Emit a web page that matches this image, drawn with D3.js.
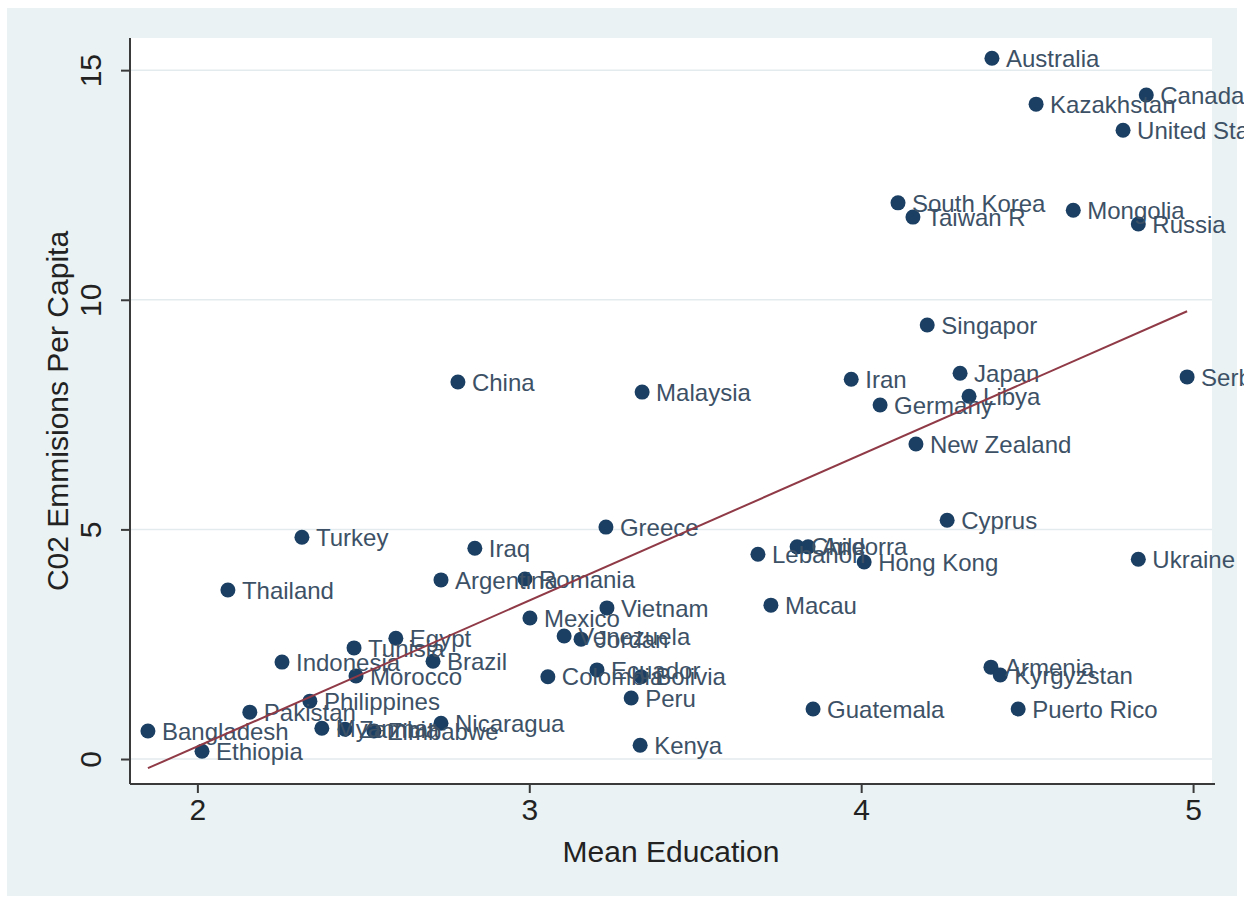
<!DOCTYPE html>
<html>
<head>
<meta charset="utf-8">
<script src="https://cdnjs.cloudflare.com/ajax/libs/d3/7.8.5/d3.min.js"></script>
<style>
  body { margin: 0; background: #ffffff; }
  svg { display: block; font-family: "Liberation Sans", Arial, sans-serif; }
  .grid line { stroke: #e3ebee; stroke-width: 1.5; }
  .axis path, .axis line { stroke: #3a3a3a; stroke-width: 2; }
  .axis text { fill: #222; font-size: 30px; }
  .country-label { fill: #3d5166; font-size: 24px; }
</style>
</head>
<body>
<div class="wrapper"></div>
<script>
var countries = [
  "Australia", "Canada", "Kazakhstan", "United States", "South Korea", "Taiwan R",
  "Mongolia", "Russia", "Singapor", "Iran", "Japan", "Libya", "Germany",
  "New Zealand", "Serbia", "China", "Malaysia", "Cyprus", "Ukraine", "Hong Kong",
  "Lebanon", "Chile", "Andorra", "Macau", "Greece", "Turkey", "Iraq", "Argentina",
  "Romania", "Thailand", "Vietnam", "Mexico", "Venezuela", "Jordan", "Egypt",
  "Tunisia", "Indonesia", "Brazil", "Morocco", "Ecuador", "Colombia", "Bolivia",
  "Peru", "Guatemala", "Kenya", "Armenia", "Kyrgyzstan", "Puerto Rico",
  "Philippines", "Pakistan", "Bangladesh", "Ethiopia", "Nicaragua", "Myanmar",
  "Zambia", "Zimbabwe"
];
var meanEducation = [
  4.394, 4.859, 4.527, 4.789, 4.111, 4.156,
  4.639, 4.835, 4.199, 3.970, 4.298, 4.325, 4.057,
  4.165, 4.982, 2.785, 3.340, 4.259, 4.835, 4.009,
  3.689, 3.807, 3.840, 3.728, 3.231, 2.315, 2.836, 2.734,
  2.987, 2.092, 3.234, 3.002, 3.105, 3.156, 2.598,
  2.472, 2.255, 2.710, 2.478, 3.204, 3.056, 3.337,
  3.307, 3.855, 3.334, 4.391, 4.419, 4.473,
  2.339, 2.158, 1.851, 2.014, 2.734, 2.375,
  2.445, 2.532
];
var co2PerCapita = [
  15.26, 14.46, 14.26, 13.69, 12.11, 11.80,
  11.95, 11.65, 9.45, 8.27, 8.40, 7.90, 7.71,
  6.86, 8.32, 8.21, 7.99, 5.20, 4.35, 4.29,
  4.46, 4.62, 4.62, 3.35, 5.05, 4.83, 4.59, 3.90,
  3.92, 3.68, 3.29, 3.07, 2.68, 2.61, 2.63,
  2.42, 2.11, 2.13, 1.81, 1.94, 1.79, 1.79,
  1.33, 1.09, 0.30, 2.00, 1.83, 1.09,
  1.26, 1.02, 0.61, 0.17, 0.78, 0.67,
  0.65, 0.61
];
// linear fit endpoints (min and max of mean education)
var fitX = [1.851, 4.982];
var fitY = [-0.20, 9.75];
var xTicks = [2, 3, 4, 5];
var yTicks = [0, 5, 10, 15];

var width = 1244, height = 902;
var plot = { left: 130, top: 38, right: 1212, bottom: 784 };

var points = countries.map(function(name, i) {
  return { name: name, x: meanEducation[i], y: co2PerCapita[i] };
});

var svg = d3.select(".wrapper").append("svg")
  .attr("width", width)
  .attr("height", height);

// graph region
svg.append("rect")
  .attr("x", 7).attr("y", 8)
  .attr("width", 1230).attr("height", 888)
  .attr("fill", "#eaf2f3");

// plot region
svg.append("rect")
  .attr("x", plot.left).attr("y", plot.top)
  .attr("width", plot.right - plot.left)
  .attr("height", plot.bottom - plot.top)
  .attr("fill", "#ffffff");

var xScale = d3.scaleLinear().domain([1.797, 5.057]).range([plot.left, plot.right]);
var yScale = d3.scaleLinear().domain([-0.544, 15.70]).range([plot.bottom, plot.top]);

// horizontal gridlines
svg.append("g").classed("grid", true)
  .selectAll("line")
  .data(yTicks)
  .enter().append("line")
  .attr("x1", plot.left).attr("x2", plot.right)
  .attr("y1", function(d) { return yScale(d); })
  .attr("y2", function(d) { return yScale(d); });

// markers
svg.append("g").classed("markers", true)
  .selectAll("circle")
  .data(points)
  .enter().append("circle")
  .attr("cx", function(d) { return xScale(d.x); })
  .attr("cy", function(d) { return yScale(d.y); })
  .attr("r", 7.5)
  .attr("fill", "#1a3f63");

// marker labels
svg.append("g").classed("labels", true)
  .selectAll("text")
  .data(points)
  .enter().append("text")
  .attr("class", "country-label")
  .attr("x", function(d) { return xScale(d.x) + 14; })
  .attr("y", function(d) { return yScale(d.y); })
  .attr("dy", "0.36em")
  .text(function(d) { return d.name; });

// fitted line on top
var line = d3.line()
  .x(function(d) { return xScale(d[0]); })
  .y(function(d) { return yScale(d[1]); });
svg.append("path")
  .datum(d3.zip(fitX, fitY))
  .attr("d", line)
  .attr("fill", "none")
  .attr("stroke", "#8f3a46")
  .attr("stroke-width", 2);

// x axis
var xAxisG = svg.append("g").classed("axis", true)
  .attr("transform", "translate(0," + plot.bottom + ")")
  .call(d3.axisBottom(xScale).tickValues(xTicks).tickFormat(d3.format("d"))
    .tickSize(9).tickSizeOuter(0));
xAxisG.select(".domain").attr("d", "M" + plot.left + ",0H" + (plot.right + 3));
xAxisG.selectAll(".tick text").attr("y", 15).attr("dy", "0.71em");

// y axis
var yAxisG = svg.append("g").classed("axis", true)
  .attr("transform", "translate(" + plot.left + ",0)")
  .call(d3.axisLeft(yScale).tickValues(yTicks).tickFormat(d3.format("d"))
    .tickSize(9).tickSizeOuter(0));
yAxisG.select(".domain").attr("d", "M0," + plot.top + "V" + plot.bottom);
yAxisG.selectAll(".tick text")
  .attr("transform", "rotate(-90)")
  .attr("x", 0)
  .attr("y", -29)
  .attr("dy", 0)
  .attr("text-anchor", "middle");

// axis titles
svg.append("text")
  .attr("x", (plot.left + plot.right) / 2)
  .attr("y", 862)
  .attr("text-anchor", "middle")
  .attr("font-size", 30)
  .attr("fill", "#222")
  .text("Mean Education");

svg.append("text")
  .attr("transform", "translate(68," + ((plot.top + plot.bottom) / 2) + ") rotate(-90)")
  .attr("text-anchor", "middle")
  .attr("font-size", 30)
  .attr("fill", "#222")
  .text("C02 Emmisions Per Capita");
</script>
</body>
</html>
